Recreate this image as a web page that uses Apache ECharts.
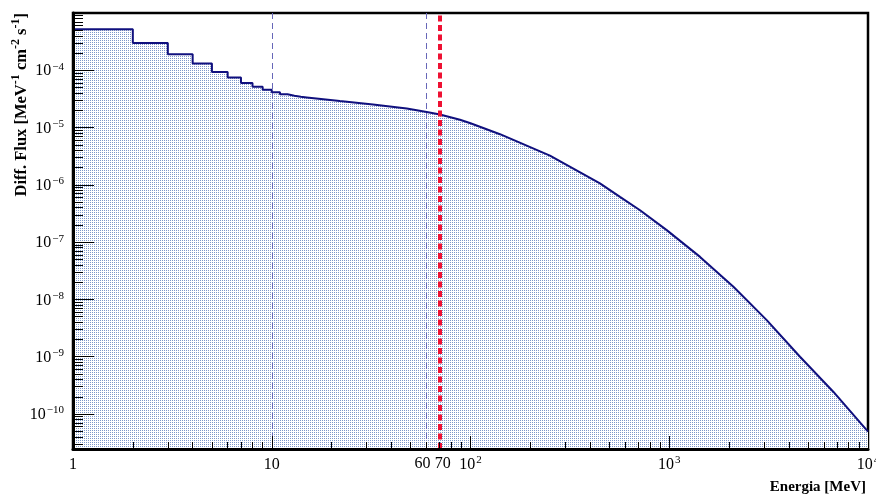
<!DOCTYPE html>
<html>
<head>
<meta charset="utf-8">
<script src="https://cdn.jsdelivr.net/npm/echarts@6/dist/echarts.min.js"></script>
<style>
html,body{margin:0;padding:0;background:#fff;}
#chart{width:876px;height:495px;}
</style>
</head>
<body>
<div id="chart"></div>
<script>
// ---- data ----
// low-energy histogram bins (1 MeV wide)
const binEdges = [1, 2, 3, 4, 5, 6, 7, 8, 9, 10, 11, 12, 13, 14, 15];
const binFlux  = [5.19e-4, 2.99e-4, 1.90e-4, 1.31e-4, 9.34e-5, 7.46e-5, 6.00e-5,
                  5.16e-5, 4.57e-5, 4.13e-5, 3.81e-5, 3.59e-5, 3.45e-5, 3.36e-5];
// higher-energy part (bins too narrow to see individually)
const curveE    = [15, 22, 32.3, 47.8, 60.2, 70.2, 88.5, 100, 140.7, 251, 448, 565, 713, 971, 1429, 2103, 3093, 4548, 6687, 10000];
const curveFlux = [3.29e-5, 2.91e-5, 2.52e-5, 2.15e-5, 1.87e-5, 1.69e-5, 1.37e-5, 1.19e-5, 7.66e-6, 3.23e-6, 1.06e-6, 6.17e-7, 3.61e-7, 1.62e-7, 5.53e-8, 1.66e-8, 4.36e-9, 9.98e-10, 2.45e-10, 4.91e-11];
// reference lines (MeV)
const blueLines = [10, 60];
const redLine = 70;
// axes
const xRange = [1, 10000];
const yRange = [2.45e-11, 1.0e-3];
const xLabelValues = [1, 10, 60, 70, 100, 1000, 10000];
const xMajorTicks = [10, 100, 1000];
const yMajorTicks = [1e-10, 1e-9, 1e-8, 1e-7, 1e-6, 1e-5, 1e-4];
const yLabelValues = yMajorTicks;

// minor ticks at 2..9 x decade
function minorTicks(lo, hi, n0, n1) {
  const out = [];
  for (let n = n0; n <= n1; n++) {
    for (let k = 2; k <= 9; k++) {
      const v = k * Math.pow(10, n);
      if (v > lo && v < hi) out.push(v);
    }
  }
  return out;
}
const xMinorTicks = minorTicks(xRange[0], xRange[1], 0, 3);
const yMinorTicks = minorTicks(yRange[0], yRange[1], -11, -4);

// histogram outline points
const pts = [];
for (let i = 0; i < binFlux.length; i++) {
  pts.push([binEdges[i], binFlux[i]]);
  pts.push([binEdges[i + 1], binFlux[i]]);
}
for (let i = 0; i < curveE.length; i++) pts.push([curveE[i], curveFlux[i]]);

// dotted fill pattern
const pc = document.createElement('canvas');
pc.width = 2; pc.height = 2;
const pctx = pc.getContext('2d');
pctx.fillStyle = '#ffffff'; pctx.fillRect(0, 0, 2, 2);
pctx.fillStyle = '#7d97c9'; pctx.fillRect(0, 0, 1, 1);

const FONT = 'Liberation Serif';
const rich = {
  b: {fontFamily: FONT, fontSize: 16, color: '#000', lineHeight: 18, verticalAlign: 'bottom'},
  s: {fontFamily: FONT, fontSize: 11, color: '#000', lineHeight: 18, verticalAlign: 'top', padding: [0, 0, 0, 1]},
  l: {fontFamily: FONT, fontSize: 16, color: '#000', lineHeight: 18, padding: [0, 8, 0, 0]},
  r: {fontFamily: FONT, fontSize: 16, color: '#000', lineHeight: 18, padding: [0, 0, 0, 6]}
};
function powLabel(v) {
  const e = Math.round(Math.log10(v));
  const p = Math.pow(10, e);
  if (Math.abs(v - p) / p > 1e-6) {
    const n = Math.round(v);
    return n === blueLines[1] ? '{l|' + n + '}' : '{r|' + n + '}';
  }
  if (e === 0) return '{b|1}';
  if (e === 1) return '{b|10}';
  return '{b|10}{s|' + (e < 0 ? '\u2212' + (-e) : e) + '}';
}

const chart = echarts.init(document.getElementById('chart'), null, {renderer: 'canvas'});
const axisBase = {
  type: 'log', logBase: 10, splitLine: {show: false}, z: 10
};
chart.setOption({
  animation: false,
  backgroundColor: '#ffffff',
  grid: {left: 73, right: 8, top: 13, bottom: 46, show: true, borderColor: '#000', borderWidth: 2.5,
         backgroundColor: 'transparent', containLabel: false, outerBoundsMode: 'none'},
  xAxis: [
    Object.assign({}, axisBase, {
      min: xRange[0], max: xRange[1], position: 'bottom',
      axisLine: {show: true, lineStyle: {color: '#000', width: 3}},
      axisTick: {show: true, inside: true, length: 13, customValues: xMajorTicks, lineStyle: {color: '#000', width: 1}},
      axisLabel: {show: true, customValues: xLabelValues, formatter: powLabel, rich: rich, margin: 6, hideOverlap: false}
    }),
    Object.assign({}, axisBase, {
      min: xRange[0], max: xRange[1], position: 'bottom',
      axisLine: {show: false},
      axisTick: {show: true, inside: true, length: 7, customValues: xMinorTicks, lineStyle: {color: '#000', width: 1}},
      axisLabel: {show: false}
    })
  ],
  yAxis: [
    Object.assign({}, axisBase, {
      min: yRange[0], max: yRange[1], position: 'left',
      axisLine: {show: true, lineStyle: {color: '#000', width: 3}},
      axisTick: {show: true, inside: true, length: 21, customValues: yMajorTicks, lineStyle: {color: '#000', width: 1}},
      axisLabel: {show: true, customValues: yLabelValues, formatter: powLabel, rich: rich, margin: 9, hideOverlap: false}
    }),
    Object.assign({}, axisBase, {
      min: yRange[0], max: yRange[1], position: 'left',
      axisLine: {show: false},
      axisTick: {show: true, inside: true, length: 10, customValues: yMinorTicks, lineStyle: {color: '#000', width: 1}},
      axisLabel: {show: false}
    })
  ],
  series: [{
    type: 'line',
    xAxisIndex: 0, yAxisIndex: 0,
    data: pts,
    symbol: 'none',
    lineStyle: {color: '#10107e', width: 2},
    areaStyle: {origin: 'start', color: {image: pc, repeat: 'repeat'}, opacity: 1},
    markLine: {
      silent: true, symbol: 'none', animation: false,
      label: {show: false},
      data: [
        {xAxis: blueLines[0], lineStyle: {color: '#6767b8', width: 1, type: [6, 4]}},
        {xAxis: blueLines[1], lineStyle: {color: '#6767b8', width: 1, type: [6, 4]}},
        {xAxis: redLine, lineStyle: {color: '#ee1133', width: 4, type: [6, 3.5]}}
      ]
    },
    z: 2
  }],
  graphic: [
    {type: 'text', x: 20, y: 13, rotation: Math.PI / 2,
     style: {text: '{t|Diff. Flux [MeV}{u|-1}{t| cm}{u|-2}{t| s}{u|-1}{t|]}', textAlign: 'right', textVerticalAlign: 'middle',
       rich: {t: {fontFamily: FONT, fontWeight: 'bold', fontSize: 16.5, lineHeight: 20, verticalAlign: 'bottom', fill: '#000'},
              u: {fontFamily: FONT, fontWeight: 'bold', fontSize: 12, lineHeight: 20, verticalAlign: 'top', fill: '#000'}}}},
    {type: 'text', x: 866, y: 487,
     style: {text: 'Energia [MeV]', textAlign: 'right', textVerticalAlign: 'middle',
       font: 'bold 15px "Liberation Serif"', fill: '#000'}}
  ]
});
</script>
</body>
</html>
